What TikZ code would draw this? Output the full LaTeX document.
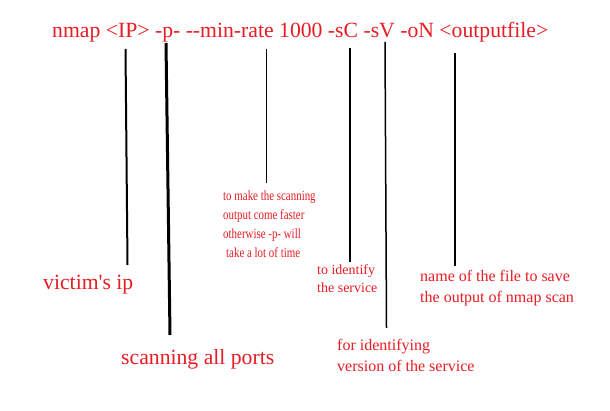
\documentclass[tikz,border=0pt]{standalone}
\usepackage{fontspec}
\newfontfamily\serifplain{Liberation Serif}
\newfontfamily\condensedfont[FakeStretch=0.78]{Liberation Serif}
\definecolor{labelred}{RGB}{232,28,36}
\begin{document}
\begin{tikzpicture}[x=1pt,y=-1pt,
  lbl/.style={text=labelred, inner sep=0pt, anchor=base west, align=left},
  big/.style={font=\serifplain\fontsize{21.7}{26}\selectfont},
  mid/.style={font=\serifplain\fontsize{16}{21}\selectfont},
  small/.style={font=\serifplain\fontsize{14}{18}\selectfont},
  cond/.style={font=\condensedfont\fontsize{14}{19.2}\selectfont},
  pointer/.style={draw=black, line cap=butt}]
\useasboundingbox[fill=white] (0,0) rectangle (610,411);
\node[lbl,big] (cmd) at (52,38) {nmap <IP> -p- --min-rate 1000 -sC -sV -oN <outputfile>};
\node[lbl,big] (victim) at (43,290) {victim's ip};
\node[lbl,big] (ports) at (121,364) {scanning all ports};
\node[lbl,cond] (rate) at (223,258) {to make the scanning\\output come faster\\otherwise -p- will\\\hspace{3pt}take a lot of time};
\node[lbl,small] (sc) at (317,293) {to identify\\the service};
\node[lbl,mid] (on) at (420,303) {name of the file to save\\the output of nmap scan};
\node[lbl,mid] (sv) at (337,371) {for identifying\\version of the service};
\coordinate (t1) at (125.5,49); \coordinate (b1) at (127.5,265);
\coordinate (t2) at (166,43);   \coordinate (b2) at (170,335);
\coordinate (t3) at (266.5,49); \coordinate (b3) at (266.5,183);
\coordinate (t4) at (350,48);   \coordinate (b4) at (350,262);
\coordinate (t5) at (385,42);   \coordinate (b5) at (386.5,328);
\coordinate (t6) at (455,53);   \coordinate (b6) at (455,266);
\draw[pointer, line width=2pt] (t1) -- (b1);
\draw[pointer, line width=3pt] (t2) -- (b2);
\draw[pointer, line width=1.3pt] (t3) -- (b3);
\draw[pointer, line width=2.5pt] (t4) -- (b4);
\draw[pointer, line width=1.5pt] (t5) -- (b5);
\draw[pointer, line width=2.5pt] (t6) -- (b6);
\end{tikzpicture}
\end{document}
